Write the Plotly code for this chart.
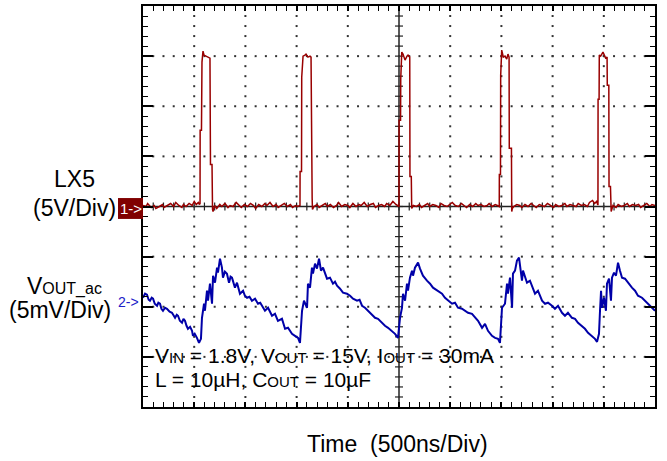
import plotly.graph_objects as go

# ---- Channel 1: LX5 switching node, (time ns, volts) ----
lx5_trace = [
    (0, 0.1), (30, 0.0), (45, 0.3), (80, -0.1), (110, 0.1), (125, -0.2), (160, 0.0), (190, 0.2),
    (205, -0.1), (240, 0.1), (270, 0.3), (300, 0.0), (320, 0.4), (350, 0.1), (380, -0.1), (395, 0.2),
    (420, 0.0), (450, 0.3), (480, 0.1), (500, 0.5), (520, 0.2), (540, 0.4), (552, 0.2),
    (557, 0.3), (558, 7.6), (571, 7.6), (576, 14.4), (586, 15.5), (596, 15.1), (615, 15.0), (645, 14.9),
    (654, 14.8), (659, 4.2), (674, 4.2), (679, -0.3), (684, -0.5),
    (700, 0.1), (720, -0.2), (750, 0.2), (770, 0.0), (800, 0.3), (830, -0.1), (850, 0.1), (880, 0.0),
    (910, 0.4), (940, 0.1), (960, -0.1), (990, 0.2), (1020, 0.0), (1050, 0.3), (1080, 0.1), (1100, -0.2),
    (1130, 0.2), (1160, 0.0), (1190, 0.3), (1210, 0.1), (1240, 0.4), (1270, 0.0), (1300, 0.2), (1320, -0.1),
    (1350, 0.1), (1380, 0.3), (1410, 0.0), (1440, 0.2), (1460, -0.1), (1490, 0.1), (1510, 0.0), (1528, 0.1),
    (1533, 0.1), (1534, 3.5), (1548, 3.5), (1550, 12.9), (1563, 15.0), (1582, 15.1), (1592, 15.2),
    (1611, 14.9), (1631, 15.0), (1641, 14.9), (1643, 8.9), (1650, 8.9), (1652, 0.8), (1655, -0.3),
    (1670, 0.0), (1700, 0.2), (1720, -0.1), (1750, 0.1), (1780, 0.3), (1800, 0.0), (1830, 0.2), (1860, -0.1),
    (1890, 0.1), (1910, 0.4), (1940, 0.0), (1970, 0.2), (2000, 0.1), (2020, -0.1), (2050, 0.3), (2080, 0.0),
    (2110, 0.2), (2130, 0.1), (2160, 0.4), (2190, 0.0), (2220, 0.2), (2250, 0.3), (2270, -0.1), (2300, 0.1),
    (2330, 0.2), (2360, 0.0), (2380, 0.3), (2410, 0.1), (2440, 0.5), (2470, 0.2), (2490, 0.1),
    (2500, 0.0), (2501, 8.6), (2515, 8.6), (2517, 12.7), (2527, 15.4), (2539, 15.2), (2559, 14.6),
    (2578, 15.0), (2588, 15.1), (2605, 14.9), (2607, 3.0), (2620, 3.0), (2624, -0.2),
    (2640, 0.1), (2670, 0.0), (2700, 0.2), (2720, -0.1), (2750, 0.1), (2780, 0.3), (2800, 0.0), (2830, 0.2),
    (2860, 0.1), (2890, -0.1), (2910, 0.3), (2940, 0.1), (2970, 0.0), (3000, 0.2), (3020, 0.4), (3050, 0.1),
    (3080, 0.0), (3110, 0.3), (3130, 0.1), (3160, -0.1), (3190, 0.2), (3220, 0.0), (3250, 0.3), (3270, 0.1),
    (3300, 0.2), (3330, 0.0), (3360, 0.1), (3380, 0.3), (3410, 0.0), (3440, 0.2), (3460, 0.1), (3475, 0.0),
    (3479, 0.0), (3480, 3.2), (3491, 3.2), (3493, 13.1), (3503, 15.6), (3519, 14.9), (3535, 15.0),
    (3552, 14.7), (3564, 15.2), (3575, 14.9), (3577, 5.8), (3598, 5.8), (3601, -0.5), (3606, -0.2),
    (3620, 0.0), (3650, 0.2), (3680, 0.1), (3700, -0.1), (3730, 0.2), (3760, 0.0), (3790, 0.3), (3810, 0.1),
    (3840, -0.1), (3870, 0.2), (3900, 0.1), (3920, 0.0), (3950, 0.3), (3980, 0.1), (4010, -0.1), (4030, 0.2),
    (4060, 0.0), (4090, 0.1), (4120, 0.3), (4140, 0.0), (4170, 0.2), (4200, 0.1), (4230, 0.0), (4250, 0.3),
    (4280, 0.1), (4310, 0.2), (4340, 0.0), (4360, 0.4), (4390, 0.6), (4410, 0.3), (4430, 0.5), (4440, 0.2),
    (4443, 0.2), (4444, 10.7), (4454, 10.7), (4456, 15.1), (4469, 15.0), (4492, 15.4), (4502, 15.2),
    (4518, 14.8), (4532, 14.9), (4534, 12.1), (4549, 12.1), (4551, 2.0), (4565, 2.0), (4567, -0.3), (4572, -0.5),
    (4590, 0.1), (4620, -0.1), (4640, 0.2), (4670, 0.0), (4700, 0.1), (4730, 0.3), (4750, 0.0), (4780, 0.2),
    (4810, 0.1), (4840, 0.2), (4860, -0.1), (4890, 0.1), (4920, 0.3), (4950, 0.0), (4970, 0.2), (5000, 0.1),
]

# ---- Channel 2: VOUT ac ripple, (time ns, millivolts) ----
vout_trace = [
    (0, 0.9), (20, 1.3), (39, 1.2), (55, 0.7), (68, 0.6), (85, 0.9), (98, 0.8), (115, 0.3), (137, 0.1),
    (150, 0.4), (166, 0.3), (180, -0.2), (195, -0.4), (215, -0.1), (234, -0.2), (260, -0.5), (283, -0.6),
    (300, -0.9), (313, -1.1), (330, -0.8), (342, -0.9), (360, -1.4), (381, -1.6), (395, -1.2), (410, -1.4),
    (425, -1.9), (439, -2.2), (460, -2.0), (479, -2.4), (488, -2.9), (505, -2.7), (527, -3.1), (547, -3.6),
    (566, -3.2), (576, -1.1), (596, 0.3), (605, -0.4), (625, 1.6), (635, 0.6), (654, 2.3), (674, 0.3),
    (684, 3.1), (703, 2.4), (723, 3.9), (732, 3.4), (752, 4.8), (771, 3.9), (781, 2.9), (800, 3.5),
    (820, 3.3), (840, 2.4), (855, 3.0), (869, 2.9), (898, 1.9), (918, 2.4), (947, 1.3), (977, 1.6),
    (995, 1.1), (1016, 0.9), (1040, 1.0), (1064, 0.6), (1094, 0.8), (1123, 0.3), (1145, 0.4), (1162, 0.1),
    (1191, -0.4), (1221, -0.1), (1240, -0.5), (1260, -0.9), (1289, -0.7), (1318, -1.4), (1357, -1.2),
    (1387, -2.2), (1416, -2.1), (1435, -2.4), (1455, -2.7), (1484, -2.9), (1514, -3.1), (1533, -3.6),
    (1543, -1.7), (1553, -0.4), (1572, 0.6), (1602, -0.1), (1611, 2.3), (1631, 1.9), (1650, 3.9),
    (1660, 3.3), (1680, 4.3), (1699, 3.8), (1719, 4.8), (1738, 3.6), (1758, 3.9), (1797, 2.8), (1826, 2.9),
    (1855, 2.3), (1875, 2.5), (1895, 2.1), (1924, 1.8), (1953, 1.4), (1992, 1.3), (2022, 1.1), (2051, 0.8),
    (2090, 0.6), (2115, 0.7), (2139, 0.1), (2168, -0.1), (2197, -0.4), (2236, -0.7), (2266, -1.1),
    (2295, -1.2), (2334, -1.6), (2363, -1.9), (2393, -2.1), (2432, -2.4), (2461, -2.7), (2490, -3.1),
    (2510, -1.1), (2529, -0.1), (2539, 1.3), (2559, 0.6), (2578, 2.3), (2588, 1.6), (2607, 2.9),
    (2627, 3.6), (2637, 3.1), (2656, 3.9), (2686, 4.4), (2705, 3.8), (2734, 3.1), (2773, 2.6), (2803, 2.3),
    (2832, 1.9), (2871, 1.6), (2920, 1.3), (2949, 0.9), (2979, 0.6), (3018, 0.3), (3047, 0.4), (3076, -0.1),
    (3115, -0.2), (3145, -0.4), (3174, -0.6), (3213, -0.7), (3242, -1.1), (3272, -1.4), (3311, -2.1),
    (3340, -1.7), (3369, -2.4), (3408, -2.9), (3438, -3.1), (3467, -3.2), (3486, -3.6), (3496, -1.1),
    (3506, -0.1), (3535, 0.3), (3555, 2.3), (3564, 1.3), (3584, 2.9), (3604, -0.1), (3613, 3.3),
    (3633, 3.6), (3652, 4.6), (3672, 4.9), (3691, 3.3), (3701, 2.6), (3711, 3.6), (3750, 2.4), (3779, 2.6),
    (3809, 1.8), (3828, 1.3), (3857, 1.6), (3897, 0.6), (3926, 0.3), (3955, 0.4), (3994, 0.1), (4023, -0.2),
    (4053, 0.1), (4092, -0.6), (4121, -0.9), (4150, -0.6), (4189, -1.1), (4219, -1.2), (4248, -1.6),
    (4287, -1.9), (4316, -2.2), (4346, -2.6), (4385, -2.9), (4414, -3.2), (4434, -3.5), (4453, -2.7),
    (4463, -0.4), (4473, 1.6), (4482, -0.1), (4502, 0.9), (4521, -0.4), (4531, 2.3), (4551, 2.8),
    (4570, 0.6), (4580, 2.9), (4600, 3.4), (4619, 3.1), (4639, 4.4), (4658, 3.6), (4678, 2.9), (4707, 2.8),
    (4736, 2.4), (4775, 1.9), (4805, 1.6), (4834, 1.1), (4873, 0.9), (4902, 0.6), (4932, 0.3), (4971, -0.1),
    (5000, -0.4),
]

lx5_t = [p[0] for p in lx5_trace]
lx5_v = [p[1] for p in lx5_trace]
vout_t = [p[0] for p in vout_trace]
vout_mv = [p[1] for p in vout_trace]

# scope settings
time_div_ns = 500
ch1_div_v = 5
ch2_div_mv = 5
n_xdiv = 10
n_ydiv = 8

FONT = "Liberation Sans, Arial, sans-serif"

x_max = n_xdiv * time_div_ns
y1_half = n_ydiv / 2 * ch1_div_v

fig = go.Figure()

# dotted graticule (dots at every minor division along the major grid lines)
gx, gy = [], []
for k in range(1, n_xdiv):
    if k == n_xdiv // 2:
        continue
    for j in range(1, n_ydiv * 5):
        gx.append(k * time_div_ns)
        gy.append(-y1_half + j * ch1_div_v / 5)
for k in range(1, n_ydiv):
    if k == n_ydiv // 2:
        continue
    for j in range(1, n_xdiv * 5):
        gx.append(j * time_div_ns / 5)
        gy.append(-y1_half + k * ch1_div_v)
fig.add_trace(go.Scatter(x=gx, y=gy, mode="markers", yaxis="y",
                         marker=dict(symbol="square", size=2, color="#333333", line=dict(width=0)),
                         showlegend=False, hoverinfo="skip"))

fig.add_trace(go.Scatter(x=lx5_t, y=lx5_v, mode="lines", yaxis="y",
                         line=dict(color="#990000", width=1.5), showlegend=False, hoverinfo="skip"))
fig.add_trace(go.Scatter(x=vout_t, y=vout_mv, mode="lines", yaxis="y2",
                         line=dict(color="#0000A8", width=2), showlegend=False, hoverinfo="skip"))

fig.update_layout(
    width=667, height=461,
    margin=dict(l=143, r=12, t=4, b=54),
    paper_bgcolor="white", plot_bgcolor="white",
    font=dict(family=FONT, color="black"),
    xaxis=dict(range=[0, x_max], tick0=0, dtick=time_div_ns, showticklabels=False,
               showgrid=False, zeroline=False, showline=True, linecolor="black", linewidth=1.5,
               mirror="ticks", ticks="inside", ticklen=5, tickwidth=1.5, tickcolor="black",
               minor=dict(dtick=time_div_ns / 5, ticks="inside", ticklen=5, tickwidth=1.2,
                          tickcolor="black", showgrid=False)),
    yaxis=dict(range=[-y1_half, y1_half], tick0=0, dtick=ch1_div_v, showticklabels=False,
               showgrid=False, zeroline=False, showline=True, linecolor="black", linewidth=1.5,
               mirror="ticks", ticks="inside", ticklen=10, tickwidth=1.5, tickcolor="black",
               minor=dict(dtick=ch1_div_v / 5, ticks="inside", ticklen=5, tickwidth=1.2,
                          tickcolor="black", showgrid=False)),
    yaxis2=dict(range=[-2 * ch2_div_mv, 6 * ch2_div_mv], overlaying="y", visible=False),
)

# centre cross of the graticule with minor ticks
shapes = []
xc = x_max / 2
shapes.append(dict(type="line", xref="x", yref="y", x0=xc, x1=xc, y0=-y1_half, y1=y1_half,
                   line=dict(color="#222222", width=1.5), layer="below"))
shapes.append(dict(type="line", xref="x", yref="y", x0=0, x1=x_max, y0=0, y1=0,
                   line=dict(color="#222222", width=1.5), layer="below"))
tx = 4 * time_div_ns / (512 / n_xdiv)  # 4px in time units
ty = 4 * (2 * y1_half) / 403  # 4px in ch1 units
for i in range(1, n_ydiv * 5):
    yv = -y1_half + i * ch1_div_v / 5
    shapes.append(dict(type="line", xref="x", yref="y", x0=xc - tx, x1=xc + tx, y0=yv, y1=yv,
                       line=dict(color="#222222", width=1.2), layer="below"))
for i in range(1, n_xdiv * 5):
    xv = i * time_div_ns / 5
    shapes.append(dict(type="line", xref="x", yref="y", x0=xv, x1=xv, y0=-ty, y1=ty,
                       line=dict(color="#222222", width=1.2), layer="below"))


def px(xp):
    return (xp - 143) / 512


def py(yp):
    return (407 - yp) / 403


# channel 1 marker box
shapes.append(dict(type="rect", xref="paper", yref="paper", x0=px(118), x1=px(143), y0=py(218), y1=py(197),
                   fillcolor="#800000", line=dict(width=0)))
fig.update_layout(shapes=shapes)

ann = []


def add(text, x, y, size, xanchor="center", color="black"):
    ann.append(dict(text=text, xref="paper", yref="paper", x=px(x), y=py(y), showarrow=False,
                    xanchor=xanchor, yanchor="middle", font=dict(family=FONT, size=size, color=color)))


add("LX5", 74, 178, 23)
add("(5V/Div)", 118, 207, 23, xanchor="right")
add("1->", 130.5, 207.5, 15, color="white")
add('V<span style="font-size:16px">OUT_ac</span>', 64, 285, 23)
add("(5mV/Div)", 113, 310, 23, xanchor="right")
add("2->", 116, 301, 14, xanchor="left", color="#2020C8")
sub = '<span style="font-size:15px">%s</span>'
add("V" + sub % "IN" + " = 1.8V, V" + sub % "OUT" + " = 15V, I" + sub % "OUT" + " = 30mA", 153, 355, 21, xanchor="left")
add("L = 10µH, C" + sub % "OUT" + " = 10µF", 153, 379, 21, xanchor="left")
add("Time  (500ns/Div)", 397, 444, 23)
fig.update_layout(annotations=ann)

fig.write_html("out.html")
